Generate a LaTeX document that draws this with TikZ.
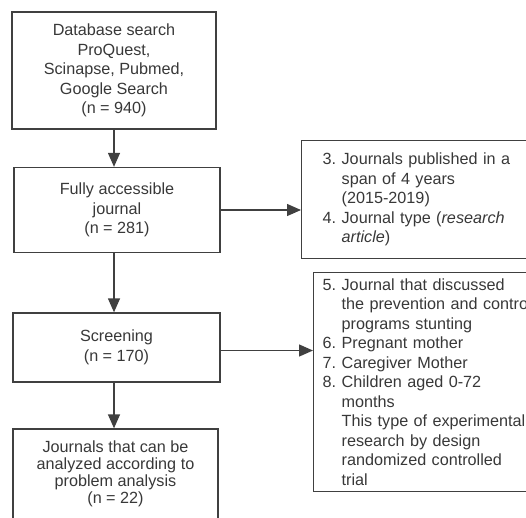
\documentclass[tikz,border=0pt]{standalone}
\usepackage{fontspec}
\setmainfont{Liberation Sans}
\usetikzlibrary{arrows.meta}
\definecolor{ln}{HTML}{404040}
\definecolor{tx}{HTML}{383838}
\newcommand{\num}[1]{\makebox[19pt][l]{#1}}
\newcommand{\ind}{\hspace*{19pt}}
\begin{document}
\begin{tikzpicture}[x=1pt,y=-1pt,
  box/.style={draw=ln,line width=1.3pt,font=\fontsize{16.2}{19.5}\selectfont,text=tx,align=center,inner sep=0pt},
  lbox/.style={box,align=left,anchor=north west},
  arr/.style={draw=ln,line width=1.3pt,-{Triangle[width=12pt,length=14pt]}}]
\clip (0,0) rectangle (526,517);
\node[box,minimum width=204,minimum height=117] (b1) at (114,70.5)
  {Database search\\ProQuest,\\Scinapse, Pubmed,\\Google Search\\(n = 940)};
\node[box,minimum width=206,minimum height=85] (b2) at (117,210)
  {Fully accessible\\journal\\(n = 281)};
\node[box,minimum width=207,minimum height=69] (b5) at (116.5,347.5)
  {Screening\\(n = 170)};
\node[box,minimum width=205,minimum height=90,font=\fontsize{16.2}{17}\selectfont] (b6) at (115.5,474)
  {Journals that can be\\analyzed according to\\problem analysis\\(n = 22)};
\node[lbox,minimum width=240,minimum height=118,inner xsep=21pt,text width=198pt] (b3) at (301,140)
  {\num{3.}Journals published in a\\\ind span of 4 years\\\ind (2015-2019)\\\num{4.}Journal type (\textit{research}\\\ind\textit{article})};
\node[lbox,minimum width=250,minimum height=219,inner xsep=9pt,text width=232pt] (b4) at (313,272)
  {\num{5.}Journal that discussed\\\ind the prevention and control\\\ind programs stunting\\\num{6.}Pregnant mother\\\num{7.}Caregiver Mother\\\num{8.}Children aged 0-72\\\ind months\\\ind This type of experimental\\\ind research by design\\\ind randomized controlled\\\ind trial};
\draw[arr] (b1.south) -- (b1.south |- b2.north);
\draw[arr] (b1.south |- b2.south) -- (b1.south |- b5.north);
\draw[arr] (b1.south |- b5.south) -- (b1.south |- b6.north);
\draw[arr] (b2.east) -- (b2.east -| b3.west);
\draw[arr] ([yshift=-3pt]b5.east) -- ([yshift=-3pt]b5.east -| b4.west);
\end{tikzpicture}
\end{document}
